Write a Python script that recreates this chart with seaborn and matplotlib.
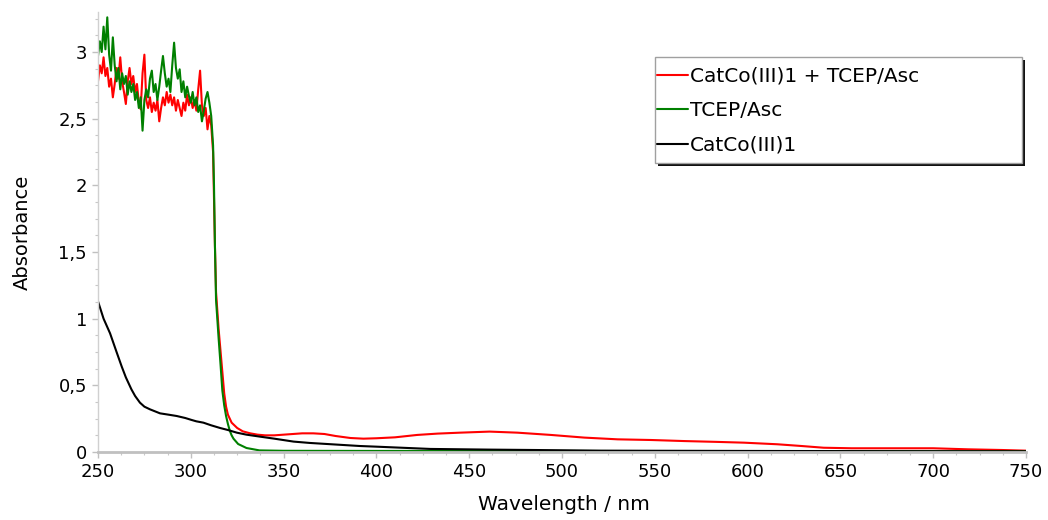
import numpy as np
import pandas as pd
import matplotlib
matplotlib.use("Agg")
import matplotlib.pyplot as plt
from matplotlib.ticker import AutoMinorLocator, FuncFormatter
from matplotlib.patches import Rectangle
import seaborn as sns

# ---------------- data ----------------
series_names = ["CatCo(III)1 + TCEP/Asc", "TCEP/Asc", "CatCo(III)1"]
series_colors = ["#ff0000", "#008000", "#000000"]

noisy_wl = list(range(250, 312))

red_noisy = [2.78, 2.90, 2.84, 2.96, 2.82, 2.88, 2.74, 2.80, 2.66, 2.76,
             2.88, 2.80, 2.96, 2.78, 2.70, 2.61, 2.78, 2.88, 2.76, 2.82,
             2.70, 2.76, 2.62, 2.57, 2.84, 2.98, 2.64, 2.58, 2.66, 2.55,
             2.62, 2.56, 2.64, 2.48, 2.58, 2.66, 2.60, 2.70, 2.62, 2.68,
             2.60, 2.66, 2.56, 2.64, 2.58, 2.52, 2.62, 2.56, 2.68, 2.60,
             2.66, 2.58, 2.64, 2.56, 2.72, 2.86, 2.60, 2.52, 2.58, 2.42,
             2.52, 2.45]
red_tail_wl = [312, 312.5, 313, 313.6, 315, 316, 317, 318, 319, 320, 322, 325,
               328, 332, 336, 340, 345, 350, 355, 360, 366, 372, 378, 386, 393,
               400, 410, 422, 433, 445, 461, 476, 494, 512, 530, 548, 566, 583,
               598, 616, 629, 641, 656, 680, 700, 719, 737, 750]
red_tail = [2.25, 1.90, 1.55, 1.20, 0.92, 0.76, 0.60, 0.44, 0.34, 0.28, 0.22, 0.18,
            0.155, 0.14, 0.13, 0.125, 0.125, 0.13, 0.135, 0.14, 0.14, 0.135, 0.12, 0.105, 0.10,
            0.103, 0.11, 0.128, 0.138, 0.145, 0.153, 0.145, 0.128, 0.108, 0.095, 0.09, 0.082, 0.076,
            0.07, 0.058, 0.045, 0.032, 0.028, 0.028, 0.028, 0.02, 0.015, 0.01]

green_noisy = [2.97, 3.08, 3.00, 3.19, 3.02, 3.26, 2.98, 2.86, 3.11, 2.90,
               2.78, 2.88, 2.72, 2.84, 2.76, 2.82, 2.68, 2.78, 2.70, 2.76,
               2.64, 2.70, 2.58, 2.66, 2.41, 2.64, 2.72, 2.66, 2.80, 2.86,
               2.70, 2.76, 2.64, 2.74, 2.86, 2.97, 2.84, 2.74, 2.80, 2.70,
               2.90, 3.07, 2.88, 2.80, 2.87, 2.70, 2.78, 2.66, 2.74, 2.67,
               2.62, 2.70, 2.60, 2.66, 2.55, 2.60, 2.48, 2.56, 2.65, 2.70,
               2.62, 2.52]
green_tail_wl = [312, 312.5, 313, 313.6, 315, 316, 317, 318, 319, 320, 321, 322,
                 323, 325.5, 330, 337, 350, 400, 500, 600, 750]
green_tail = [2.30, 2.00, 1.55, 1.14, 0.85, 0.66, 0.46, 0.35, 0.27, 0.21, 0.16, 0.125,
              0.10, 0.06, 0.03, 0.012, 0.009, 0.008, 0.008, 0.006, 0.005]

black_wl = [250, 253, 256.5, 260, 262.8, 265, 268, 270, 272.6, 275, 278, 283.4, 288,
            292.4, 297, 300.5, 303, 306.8, 311, 315.8, 320, 324.8, 330, 337.4, 345,
            355.4, 364, 373.4, 391, 400, 429, 460, 485, 521, 600, 680, 750]
black_abs = [1.13, 1.00, 0.89, 0.75, 0.64, 0.56, 0.47, 0.42, 0.37, 0.34, 0.32, 0.29, 0.28,
             0.27, 0.255, 0.24, 0.23, 0.22, 0.20, 0.18, 0.165, 0.145, 0.13, 0.115, 0.10,
             0.078, 0.068, 0.06, 0.045, 0.04, 0.023, 0.018, 0.015, 0.01, 0.008, 0.006, 0.005]

x_ticks = [250, 300, 350, 400, 450, 500, 550, 600, 650, 700, 750]
y_ticks = [0, 0.5, 1, 1.5, 2, 2.5, 3]

# ---------------- assemble ----------------
frames = [
    pd.DataFrame({"wl": noisy_wl + red_tail_wl, "A": red_noisy + red_tail, "s": series_names[0]}),
    pd.DataFrame({"wl": noisy_wl + green_tail_wl, "A": green_noisy + green_tail, "s": series_names[1]}),
    pd.DataFrame({"wl": black_wl, "A": black_abs, "s": series_names[2]}),
]
df = pd.concat(frames, ignore_index=True)

sns.set_theme(style="white")
plt.rcParams["font.family"] = ["DejaVu Sans"]
plt.rcParams["text.color"] = "black"
plt.rcParams["axes.labelcolor"] = "black"

W, H = 1048, 520
fig = plt.figure(figsize=(W / 100, H / 100), dpi=100)
ax = fig.add_axes([98 / W, 1 - 452 / H, 928 / W, 440 / H])

sns.lineplot(data=df, x="wl", y="A", hue="s", hue_order=series_names,
             palette=dict(zip(series_names, series_colors)),
             estimator=None, sort=False, linewidth=1.5, ax=ax, legend=True)

ax.set_xlim(250, 750)
ax.set_ylim(0, 3.3)
ax.set_xticks(x_ticks)
ax.set_yticks(y_ticks)
ax.xaxis.set_minor_locator(AutoMinorLocator(4))
ax.yaxis.set_minor_locator(AutoMinorLocator(4))
fmt = FuncFormatter(lambda v, p: ("%g" % v).replace(".", ","))
ax.yaxis.set_major_formatter(fmt)
ax.xaxis.set_major_formatter(fmt)

for side in ["top", "right"]:
    ax.spines[side].set_visible(False)
ax.spines["left"].set_color("#d0d0d0")
ax.spines["left"].set_linewidth(1.0)
ax.spines["bottom"].set_color("#c0c0c0")
ax.spines["bottom"].set_linewidth(2)

ax.tick_params(axis="both", which="major", direction="out", length=4, width=1,
               color="#c0c0c0", labelsize=13, labelcolor="#000000", pad=4,
               bottom=True, left=True)
ax.tick_params(axis="both", which="minor", direction="out", length=2.5, width=0.8,
               color="#c8c8c8", bottom=True, left=True)

ax.set_xlabel("Wavelength / nm", fontsize=14.5, va="center", color="black")
ax.set_ylabel("Absorbance", fontsize=14, va="center", color="black")
ax.xaxis.set_label_coords((564 - 98) / 928, -(505 - 452) / 440)
ax.yaxis.set_label_coords(-(98 - 22) / 928, (452 - 232) / 440)

# legend: custom frame with shadow, legend itself frameless
handles, labels = ax.get_legend_handles_labels()
ax.get_legend().remove()
shadow = Rectangle((658 / W, 1 - 166 / H), 367 / W, 106 / H, transform=fig.transFigure,
                   facecolor="#111111", edgecolor="none", zorder=3)
frame = Rectangle((655 / W, 1 - 163 / H), 367 / W, 106 / H, transform=fig.transFigure,
                  facecolor="white", edgecolor="#a0a0a0", linewidth=1, zorder=3.1)
fig.add_artist(shadow)
fig.add_artist(frame)
leg = fig.legend(handles, labels, loc="upper left", bbox_to_anchor=(657 / W, 1 - 67 / H),
                 bbox_transform=fig.transFigure, fontsize=14.5, frameon=False,
                 handlelength=1.55, handletextpad=0.1, labelspacing=0.76,
                 borderpad=0, borderaxespad=0, labelcolor="black")
leg.set_zorder(5)
for line in leg.get_lines():
    line.set_linewidth(1.5)

fig.savefig("out.png", dpi=100)
